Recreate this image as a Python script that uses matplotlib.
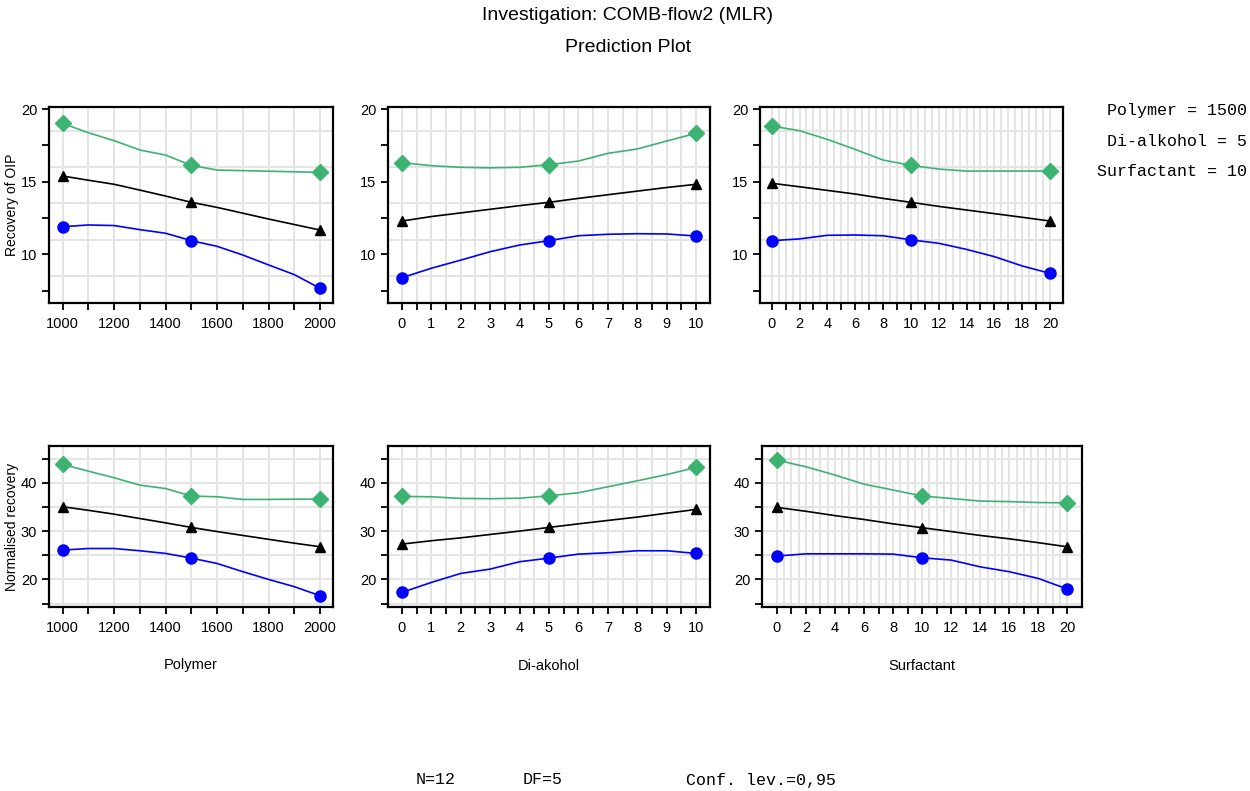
import matplotlib
matplotlib.use("Agg")
import matplotlib.pyplot as plt
import numpy as np

# ---------------- data ----------------
polymer_x = [1000, 1100, 1200, 1300, 1400, 1500, 1600, 1700, 1800, 1900, 2000]
dialk_x = [0, 1, 2, 3, 4, 5, 6, 7, 8, 9, 10]
surf_x = [0, 2, 4, 6, 8, 10, 12, 14, 16, 18, 20]

polymer_pts = [1000, 1500, 2000]
dialk_pts = [0, 5, 10]
surf_pts = [0, 10, 20]

# Recovery of OIP
rec_poly_hi = [19.01, 18.37, 17.82, 17.18, 16.83, 16.12, 15.80, 15.76, 15.72, 15.68, 15.64]
rec_poly_mid = [15.39, 15.10, 14.82, 14.42, 14.01, 13.58, 13.23, 12.83, 12.43, 12.05, 11.67]
rec_poly_lo = [11.90, 12.02, 11.98, 11.70, 11.45, 10.94, 10.55, 9.95, 9.27, 8.60, 7.66]

rec_dial_hi = [16.31, 16.10, 15.99, 15.95, 15.99, 16.17, 16.42, 16.95, 17.25, 17.80, 18.33]
rec_dial_mid = [12.29, 12.60, 12.85, 13.10, 13.35, 13.58, 13.85, 14.10, 14.35, 14.60, 14.82]
rec_dial_lo = [8.39, 9.04, 9.60, 10.18, 10.64, 10.94, 11.28, 11.38, 11.42, 11.40, 11.26]

rec_surf_hi = [18.83, 18.51, 17.91, 17.22, 16.49, 16.12, 15.87, 15.73, 15.73, 15.73, 15.73]
rec_surf_mid = [14.89, 14.65, 14.40, 14.15, 13.85, 13.58, 13.30, 13.05, 12.80, 12.55, 12.29]
rec_surf_lo = [10.94, 11.06, 11.31, 11.33, 11.28, 11.00, 10.76, 10.34, 9.84, 9.20, 8.69]

# Normalised recovery
nor_poly_hi = [43.79, 42.40, 41.03, 39.50, 38.80, 37.24, 37.10, 36.55, 36.55, 36.60, 36.62]
nor_poly_mid = [35.03, 34.30, 33.50, 32.60, 31.70, 30.76, 29.90, 29.10, 28.30, 27.50, 26.76]
nor_poly_lo = [26.07, 26.40, 26.40, 25.93, 25.38, 24.41, 23.30, 21.60, 20.00, 18.50, 16.62]

nor_dial_hi = [37.17, 37.10, 36.76, 36.70, 36.80, 37.30, 37.93, 39.17, 40.40, 41.70, 43.17]
nor_dial_mid = [27.31, 28.00, 28.60, 29.30, 30.00, 30.76, 31.50, 32.20, 32.90, 33.70, 34.48]
nor_dial_lo = [17.31, 19.38, 21.24, 22.14, 23.66, 24.41, 25.24, 25.52, 25.93, 25.93, 25.38]

nor_surf_hi = [44.69, 43.30, 41.60, 39.70, 38.50, 37.24, 36.76, 36.20, 36.10, 35.90, 35.86]
nor_surf_mid = [34.90, 34.10, 33.20, 32.40, 31.50, 30.70, 29.90, 29.10, 28.40, 27.60, 26.75]
nor_surf_lo = [24.83, 25.30, 25.30, 25.30, 25.24, 24.48, 24.00, 22.60, 21.60, 20.20, 18.00]

factor_names = ["Polymer", "Di-alkohol", "Surfactant"]
xlabel_texts = ["Polymer", "Di-akohol", "Surfactant"]
response_names = ["Recovery of OIP", "Normalised recovery"]
setting_texts = ["Polymer = 1500", "Di-alkohol = 5", "Surfactant = 10"]
footer_texts = ["N=12", "DF=5", "Conf. lev.=0,95"]
title_lines = ["Investigation: COMB-flow2 (MLR)", "Prediction Plot"]

GREEN = "#3cb371"
BLUE = "#0000ff"
BLACK = "#000000"
GRID = "#e4e4e4"

W, H = 1250, 791
fig = plt.figure(figsize=(W / 100, H / 100), dpi=100)
plt.rcParams["font.family"] = ["Liberation Sans", "DejaVu Sans"]


def ax_at(x0, y0, x1, y1):
    return fig.add_axes([x0 / W, 1 - y1 / H, (x1 - x0) / W, (y1 - y0) / H])


panels = [
    (0, 0, (49, 107, 333, 303), polymer_x, polymer_pts, rec_poly_hi, rec_poly_mid, rec_poly_lo),
    (0, 1, (388, 107, 710, 303), dialk_x, dialk_pts, rec_dial_hi, rec_dial_mid, rec_dial_lo),
    (0, 2, (760, 107, 1063, 303), surf_x, surf_pts, rec_surf_hi, rec_surf_mid, rec_surf_lo),
    (1, 0, (49, 446, 333, 607), polymer_x, polymer_pts, nor_poly_hi, nor_poly_mid, nor_poly_lo),
    (1, 1, (388, 446, 710, 607), dialk_x, dialk_pts, nor_dial_hi, nor_dial_mid, nor_dial_lo),
    (1, 2, (762, 446, 1082, 607), surf_x, surf_pts, nor_surf_hi, nor_surf_mid, nor_surf_lo),
]

xcfg = {
    0: dict(xlim=(947, 2050), ticks=np.arange(1000, 2001, 100), labels=np.arange(1000, 2001, 200),
            grid=np.arange(1000, 2001, 100)),
    1: dict(xlim=(-0.47, 10.47), ticks=np.arange(0, 10.01, 0.5), labels=np.arange(0, 11, 1),
            grid=np.arange(0, 10.01, 0.5)),
    2: dict(xlim=(-0.84, 20.93), ticks=np.arange(0, 21, 1), labels=np.arange(0, 21, 2),
            grid=np.arange(0, 20.01, 0.5)),
}
xcfg_b2 = dict(xlim=(-1.02, 21.0), ticks=np.arange(0, 21, 1), labels=np.arange(0, 21, 2),
               grid=np.arange(0, 20.01, 0.5))

ycfg = {
    0: dict(ylim=(6.65, 20.14), ticks=np.arange(7.5, 20.01, 2.5), labels=[10, 15, 20],
            grid=[8.5, 11.0, 13.5, 16.0, 18.5]),
    1: dict(ylim=(14.3, 47.6), ticks=np.arange(15, 45.01, 5), labels=[20, 30, 40],
            grid=np.arange(15, 45.01, 5)),
}

for row, col, box, xs, xp, hi, mid, lo in panels:
    ax = ax_at(*box)
    xc = xcfg_b2 if (row == 1 and col == 2) else xcfg[col]
    yc = ycfg[row]
    ax.set_xlim(*xc["xlim"])
    ax.set_ylim(*yc["ylim"])
    for g in xc["grid"]:
        ax.axvline(g, color=GRID, lw=1.4, zorder=0)
    for g in yc["grid"]:
        ax.axhline(g, color=GRID, lw=1.4, zorder=0)

    xs_arr = np.array(xs)
    idx = [int(np.where(xs_arr == p)[0][0]) for p in xp]
    for ys, c, m, ms in [(hi, GREEN, "D", 8.5), (mid, BLACK, "^", 7.5), (lo, BLUE, "o", 8)]:
        ax.plot(xs, ys, color=c, lw=1.2, zorder=3)
        ax.plot(xp, [ys[i] for i in idx], linestyle="none", marker=m, color=c,
                markersize=ms, zorder=4)

    ax.set_xticks(xc["ticks"])
    lab = set(np.round(xc["labels"], 3))
    ax.set_xticklabels([f"{t:g}" if round(t, 3) in lab else "" for t in xc["ticks"]])
    ax.set_yticks(yc["ticks"])
    ax.set_yticklabels([f"{t:g}" if t in yc["labels"] else "" for t in yc["ticks"]])
    ax.tick_params(axis="x", pad=5)
    ax.tick_params(direction="out", length=5, width=1.3, labelsize=10.5, colors="black")
    for s in ax.spines.values():
        s.set_linewidth(1.6)
    if col == 0:
        ymid = (box[1] + box[3]) / 2
        fig.text(12 / W, 1 - ymid / H, response_names[row], rotation=90,
                 ha="center", va="center", fontsize=10)
    if row == 1:
        ax.set_xlabel(xlabel_texts[col], fontsize=10.5, labelpad=17)

fig.text(628 / W, 1 - 15 / H, title_lines[0], ha="center", va="center", fontsize=14)
fig.text(628 / W, 1 - 48 / H, title_lines[1], ha="center", va="center", fontsize=14)

for i, t in enumerate(setting_texts):
    fig.text(1247 / W, 1 - (110 + 31 * i) / H, t, ha="right", va="center",
             family="Liberation Mono", fontsize=12)

for xpos, t in zip([416, 523, 686], footer_texts):
    fig.text(xpos / W, 1 - 780 / H, t, ha="left", va="center",
             family="Liberation Mono", fontsize=12)

fig.savefig("out.png", dpi=100)
